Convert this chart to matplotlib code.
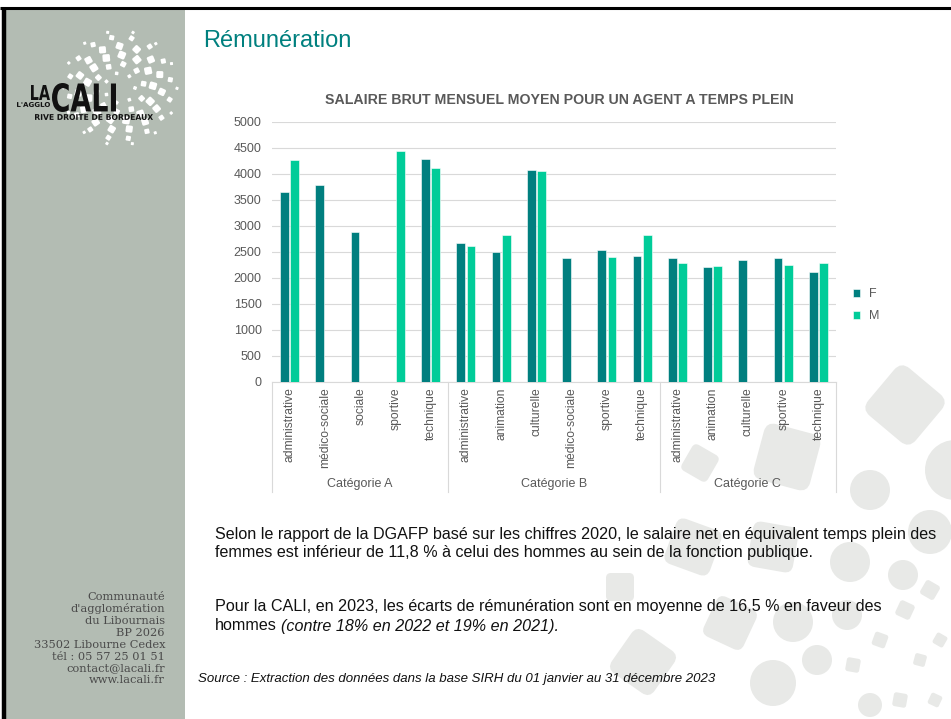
import numpy as np
import matplotlib
matplotlib.use("Agg")
import matplotlib.pyplot as plt
import matplotlib.transforms as mtransforms
from matplotlib.patches import Rectangle, FancyBboxPatch, Circle, PathPatch
from matplotlib.textpath import TextPath
from matplotlib.font_manager import FontProperties

plt.rcParams['font.family'] = ['Liberation Sans', 'DejaVu Sans']

# Data
categories = ["administrative", "médico-sociale", "sociale", "sportive", "technique",
              "administrative", "animation", "culturelle", "médico-sociale", "sportive", "technique",
              "administrative", "animation", "culturelle", "sportive", "technique"]
groups = ["Catégorie A", "Catégorie B", "Catégorie C"]
group_sizes = [5, 6, 5]
f_values = [3660, 3795, 2885, np.nan, 4282,
            2679, 2500, 4083, 2385, 2545, 2417,
            2391, 2212, 2353, 2385, 2122]
m_values = [4263, np.nan, np.nan, 4442, 4109,
            2609, 2833, 4064, np.nan, 2397, 2827,
            2295, 2231, np.nan, 2256, 2288]
yticks = list(range(0, 5001, 500))

F_COLOR = "#007F7F"
M_COLOR = "#00CC99"
GRID = "#D9D9D9"
TXT = "#595959"
SIDEBAR = "#B3BCB3"
DECO = "#E8E9E7"

W, H = 951, 719
fig = plt.figure(figsize=(W / 100, H / 100), dpi=100)
fig.patch.set_facecolor("white")

# background layer in pixel coordinates
bg = fig.add_axes([0, 0, 1, 1])
bg.set_xlim(0, W)
bg.set_ylim(H, 0)
bg.axis("off")
bg.set_zorder(0)

# decorative shapes bottom right
squares = [(905, 405, 62, 40), (787, 457, 58, 15), (700, 463, 30, 30), (693, 547, 48, 20),
           (773, 547, 46, 10), (620, 587, 28, 0), (730, 623, 44, 25), (643, 662, 52, 35),
           (853, 665, 14, 10), (880, 640, 14, 20), (905, 610, 16, 25), (930, 590, 16, 30),
           (920, 660, 12, 15), (940, 640, 12, 30), (900, 700, 14, 10), (935, 700, 12, 25)]
for cx, cy, s, ang in squares:
    p = FancyBboxPatch((cx - s / 2, cy - s / 2), s, s, boxstyle="round,pad=0,rounding_size=%f" % (s * 0.18),
                       fc=DECO, ec="none")
    p.set_transform(mtransforms.Affine2D().rotate_deg_around(cx, cy, ang) + bg.transData)
    bg.add_patch(p)
circles = [(955, 470, 30), (930, 532, 22), (870, 490, 20), (850, 562, 20), (903, 575, 15),
           (793, 622, 20), (847, 615, 15), (817, 660, 15), (773, 683, 23), (870, 705, 12)]
for cx, cy, r in circles:
    bg.add_patch(Circle((cx, cy), r, fc=DECO, ec="none"))

# sidebar and frame
bg.add_patch(Rectangle((6, 9), 179, H, fc=SIDEBAR, ec="none"))
bg.plot([0, W], [8, 8], color="black", lw=2.2, solid_capstyle="butt")
bg.plot([4.3, 4.3], [7, H], color="black", lw=3.2, solid_capstyle="butt")

# logo: white squares spiral
cx0, cy0 = 120, 88
rings = [(15, 7, 3.5), (24, 10, 5.5), (33, 13, 7.5), (42, 15, 7.0), (51, 16, 5.0), (57, 14, 3.0)]
for k, (r, n, s) in enumerate(rings):
    for j in range(n):
        a = 2 * np.pi * j / n + k * 0.45
        x = cx0 + r * np.cos(a)
        y = cy0 + r * np.sin(a)
        p = FancyBboxPatch((x - s / 2, y - s / 2), s, s,
                           boxstyle="round,pad=0,rounding_size=%f" % (s * 0.2), fc="white", ec="none")
        p.set_transform(mtransforms.Affine2D().rotate_deg_around(x, y, np.degrees(a) + 20) + bg.transData)
        bg.add_patch(p)


def fit_text(s, x0, x1, y0, y1, color="#111111"):
    tp = TextPath((0, 0), s, size=10, prop=FontProperties(family="DejaVu Sans", weight="bold"))
    bb = tp.get_extents()
    tr = (mtransforms.Affine2D().translate(-bb.x0, -bb.y0)
          .scale((x1 - x0) / bb.width, -(y1 - y0) / bb.height).translate(x0, y1))
    bg.add_patch(PathPatch(tr.transform_path(tp), fc=color, ec="none"))


fit_text("LA", 31, 50, 85, 100)
fit_text("CALI", 52, 116, 83, 112)
fit_text("L'AGGLO", 17, 50, 102, 107)
fit_text("RIVE DROITE DE BORDEAUX", 35, 153, 114, 120)

# sidebar address
addr = ["Communauté", "d'agglomération", "du Libournais", "BP 2026", "33502 Libourne Cedex",
        "tél : 05 57 25 01 51", "contact@lacali.fr", "www.lacali.fr"]
for i, line in enumerate(addr):
    bg.text(165, 597 + i * 11.9, line, ha="right", va="center", fontsize=8.2,
            family=["DejaVu Serif"], color="#4a4a4a")

# titles
bg.text(203, 41, "Rémunération", fontsize=17, color="#00807F", va="center", ha="left")
bg.text(559, 100, "SALAIRE BRUT MENSUEL MOYEN POUR UN AGENT A TEMPS PLEIN", fontsize=10.2,
        fontweight="bold", color=TXT, ha="center", va="center")

# paragraphs
FS = 11.6
bg.text(215, 535, "Selon le rapport de la DGAFP basé sur les chiffres 2020, le salaire net en équivalent temps plein des",
        fontsize=FS, color="#111111", va="center")
bg.text(215, 553, "femmes est inférieur de 11,8 % à celui des hommes au sein de la fonction publique.",
        fontsize=FS, color="#111111", va="center")
bg.text(215, 607, "Pour la CALI, en 2023, les écarts de rémunération sont en moyenne de 16,5 % en faveur des",
        fontsize=FS, color="#111111", va="center")
t_h = bg.text(215, 626, "hommes", fontsize=FS, color="#111111", va="center")
bg.annotate("(contre 18% en 2022 et 19% en 2021).", xy=(1, 0), xycoords=t_h, xytext=(3, 0),
            textcoords="offset points", va="bottom", ha="left", fontsize=FS, style="italic",
            color="#111111", annotation_clip=False)
bg.text(198, 679, "Source : Extraction des données dans la base SIRH du 01 janvier au 31 décembre 2023",
        fontsize=9.5, style="italic", color="#111111", va="center")

# chart
ax = fig.add_axes([272 / W, 1 - 382 / H, 564 / W, 260 / H])
ax.set_zorder(1)
ax.patch.set_alpha(0)
x = np.arange(len(categories))
ax.bar(x - 0.145, f_values, 0.245, color=F_COLOR, edgecolor="white", linewidth=0.4, label="F", zorder=3)
ax.bar(x + 0.145, m_values, 0.245, color=M_COLOR, edgecolor="white", linewidth=0.4, label="M", zorder=3)
ax.set_xlim(-0.5, len(categories) - 0.5)
ax.set_ylim(0, 5000)
ax.set_yticks(yticks)
ax.yaxis.grid(True, color=GRID, lw=0.8, zorder=0)
ax.set_axisbelow(True)
for sp in ["left", "right", "top"]:
    ax.spines[sp].set_visible(False)
ax.spines["bottom"].set_color(GRID)
ax.tick_params(axis="y", length=0, pad=7.5, labelsize=9, labelcolor=TXT)
ax.set_xticks(x)
ax.set_xticklabels(categories, rotation=90, fontsize=8.7, color=TXT, va="top")
ax.tick_params(axis="x", length=0, pad=4)

# category group boxes
trans = mtransforms.blended_transform_factory(ax.transData, ax.transAxes)
edges = np.concatenate([[0], np.cumsum(group_sizes)]) - 0.5
for e in edges:
    ax.plot([e, e], [0, -0.423], color=GRID, lw=0.8, transform=trans, clip_on=False)
for g, a, b in zip(groups, edges[:-1], edges[1:]):
    ax.text((a + b) / 2, -0.392, g, transform=trans, ha="center", va="center", fontsize=9, color=TXT)

ax.legend(loc="center left", bbox_to_anchor=(1.03, 0.296), frameon=False, fontsize=9,
          handlelength=0.6, handleheight=0.6, handletextpad=0.7, labelspacing=0.8,
          borderaxespad=0, borderpad=0, labelcolor=TXT)

fig.savefig("out.png", dpi=100)
